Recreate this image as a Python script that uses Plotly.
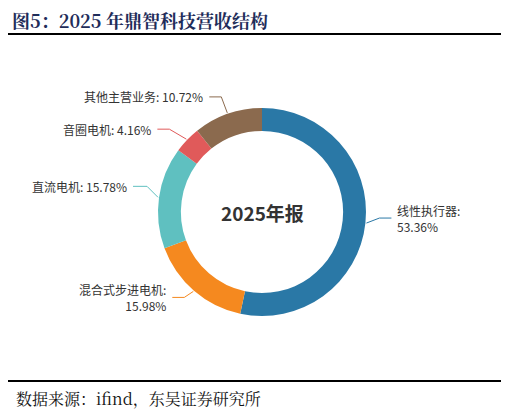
import numpy as np
import plotly.graph_objects as go

W, H = 509, 413
categories = ['线性执行器', '混合式步进电机', '直流电机', '音圈电机', '其他主营业务']
shares = [53.36, 15.98, 15.78, 4.16, 10.72]
colors = ['#2a78a6', '#f5891f', '#5fc0c0', '#e05a5a', '#8b6a4e']

OFF = 8  # page body margin
cx, cy, R = 262, 212, 104


def P(x, y):
    return (x - OFF) / W, 1 - (y - OFF) / H


fig = go.Figure(go.Pie(
    labels=categories, values=shares, hole=0.78, sort=False, direction='clockwise',
    rotation=0, marker=dict(colors=colors), textinfo='none', hoverinfo='label+percent',
    domain=dict(x=[P(cx - R, 0)[0], P(cx + R, 0)[0]], y=[P(0, cy + R)[1], P(0, cy - R)[1]]),
    showlegend=False,
))

# leader lines: start on ring at slice mid-angle, elbow offset, then horizontal run
elbows = [(13, -5, 12), (-9, 6, -12), (-11, -11, -14), (-17, -10, -12), (-6, -16, -12)]
texts = ['线性执行器:<br>53.36%', '混合式步进电机:<br>15.98%', '直流电机: 15.78%',
         '音圈电机: 4.16%', '其他主营业务: 10.72%']
cum = np.cumsum([0] + shares[:-1])
mids = (cum + np.array(shares) / 2) / 100 * 2 * np.pi
for i, a in enumerate(mids):
    x0, y0 = cx + (R + 1) * np.sin(a), cy - (R + 1) * np.cos(a)
    dx, dy, run = elbows[i]
    x1, y1 = x0 + dx, y0 + dy
    x2 = x1 + run
    xs, ys = zip(*[P(x0, y0), P(x1, y1), P(x2, y1)])
    fig.add_trace(go.Scatter(x=xs, y=ys, xaxis='x', yaxis='y', mode='lines',
                             line=dict(color=colors[i], width=1), hoverinfo='skip', showlegend=False))
    tx, ty = P(x2 + (4 if run > 0 else -4), y1)
    fig.add_annotation(x=tx, y=ty, xref='paper', yref='paper', text=texts[i], showarrow=False,
                       xanchor='left' if run > 0 else 'right', yanchor='middle',
                       align='right' if i == 1 else 'left', font=dict(size=12, color='#333333'))

cxp, cyp = P(cx, cy)
fig.add_annotation(x=cxp, y=cyp, xref='paper', yref='paper', text='<b>2025年报</b>',
                   showarrow=False, yanchor='middle', font=dict(size=19, color='#333333'))
tx, ty = P(10, 20)
fig.add_annotation(x=tx, y=ty, xref='paper', yref='paper', xanchor='left', yanchor='middle',
                   text='<b>图5：2025 年鼎智科技营收结构</b>', showarrow=False,
                   font=dict(size=18, color='#1f2d5a', family='Noto Serif CJK SC, Noto Sans CJK SC'))
fx, fy = P(14, 398)
fig.add_annotation(x=fx, y=fy, xref='paper', yref='paper', xanchor='left', yanchor='middle',
                   text='数据来源：ifind，东吴证券研究所', showarrow=False,
                   font=dict(size=16, color='#111111', family='Noto Serif CJK SC, Noto Sans CJK SC'))
for ly in (34, 381):
    lx0, lyp = P(8, ly)
    lx1, _ = P(503, ly)
    fig.add_shape(type='line', xref='paper', yref='paper', x0=lx0, x1=lx1, y0=lyp, y1=lyp,
                  line=dict(color='black', width=2))

fig.update_layout(
    width=W, height=H, margin=dict(l=0, r=0, t=0, b=0), paper_bgcolor='white', plot_bgcolor='white',
    font=dict(family='Noto Sans CJK SC'),
    xaxis=dict(range=[0, 1], visible=False, domain=[0, 1], fixedrange=True),
    yaxis=dict(range=[0, 1], visible=False, domain=[0, 1], fixedrange=True),
)
fig.write_html('out.html')
